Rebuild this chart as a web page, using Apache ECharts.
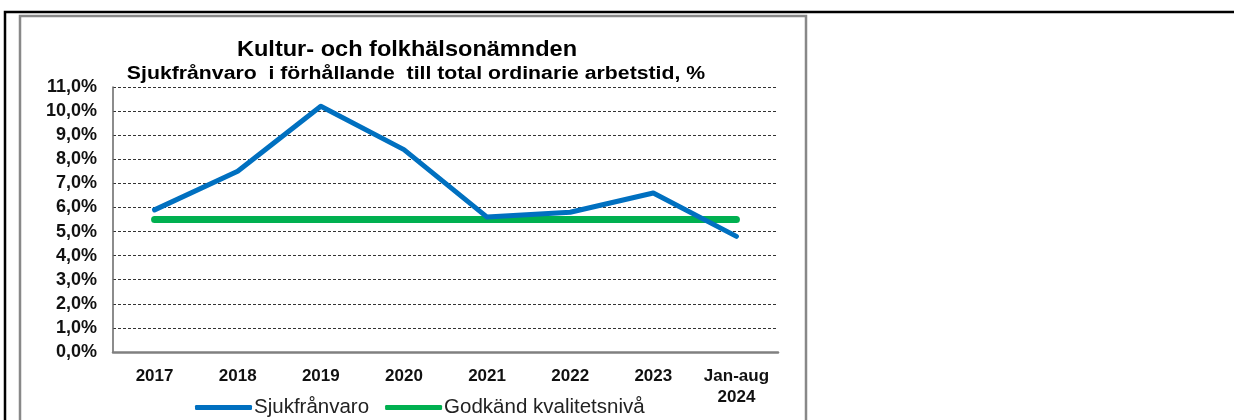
<!DOCTYPE html>
<html>
<head>
<meta charset="utf-8">
<script src="https://cdn.jsdelivr.net/npm/echarts@6/dist/echarts.min.js"></script>
<style>
html,body{margin:0;padding:0;background:#fff;}
#chart{width:1234px;height:420px;}
</style>
</head>
<body>
<div id="chart"></div>
<script>
const categories = ['2017','2018','2019','2020','2021','2022','2023','Jan-aug\n2024'];
const sjukfranvaro = [5.9, 7.5, 10.2, 8.4, 5.6, 5.8, 6.6, 4.8];
const godkand = [5.5, 5.5, 5.5, 5.5, 5.5, 5.5, 5.5, 5.5];
const seriesNames = ['Sjukfrånvaro', 'Godkänd kvalitetsnivå'];
const titleText = 'Kultur- och folkhälsonämnden';
const subtitleText = 'Sjukfrånvaro  i förhållande  till total ordinarie arbetstid, %';

const chart = echarts.init(document.getElementById('chart'), null, {renderer:'canvas'});
const font = '"Liberation Sans", Arial, sans-serif';
chart.setOption({
  animation:false,
  backgroundColor:'#fff',
  textStyle:{fontFamily:font},
  graphic:[
    {type:'rect', shape:{x:5,y:12,width:1300,height:500}, style:{fill:'none',stroke:'#000',lineWidth:2.5}, z:-10},
    {type:'rect', shape:{x:20,y:16,width:786,height:500}, style:{fill:'none',stroke:'#888',lineWidth:2.5}, z:-10},
    {type:'text', x:407, y:50, scaleX:1.07,
      style:{text:titleText, x:0, y:0, align:'center', verticalAlign:'middle',
        font:'bold 22px "Liberation Sans", Arial, sans-serif', fill:'#000'}},
    {type:'text', x:416, y:74, scaleX:1.18,
      style:{text:subtitleText, x:0, y:0, align:'center', verticalAlign:'middle',
        font:'bold 18px "Liberation Sans", Arial, sans-serif', fill:'#000'}}
  ],
  legend:{
    left:190, top:392,
    itemWidth:57, itemHeight:5, itemGap:16,
    icon:'roundRect',
    textStyle:{fontFamily:font,fontSize:20.5,color:'#222',padding:[0,0,0,-3]},
    data:seriesNames
  },
  grid:{left:113, right:456, top:87, bottom:68},
  xAxis:{
    type:'category', data:categories, boundaryGap:true,
    axisLine:{lineStyle:{color:'#808080',width:2.5}},
    axisTick:{show:false},
    axisLabel:{margin:14,fontFamily:font,fontSize:17,fontWeight:'bold',color:'#111',lineHeight:21,interval:0}
  },
  yAxis:{
    type:'value', min:0, max:11, interval:1,
    axisLine:{show:true,lineStyle:{color:'#666',width:1.5}},
    axisTick:{show:false},
    splitLine:{lineStyle:{color:'#333',type:[3,2],width:1}},
    axisLabel:{margin:16,fontFamily:font,fontSize:18,fontWeight:'bold',color:'#111',
      formatter:v=>v.toFixed(1).replace('.',',')+'%'}
  },
  series:[
    {name:seriesNames[0], type:'line', data:sjukfranvaro, symbol:'none', z:3,
      lineStyle:{color:'#0070C0',width:5,cap:'round',join:'round'}, itemStyle:{color:'#0070C0'}},
    {name:seriesNames[1], type:'line', data:godkand, symbol:'none', z:2,
      lineStyle:{color:'#00B050',width:7,cap:'round'}, itemStyle:{color:'#00B050'}}
  ]
});
</script>
</body>
</html>
